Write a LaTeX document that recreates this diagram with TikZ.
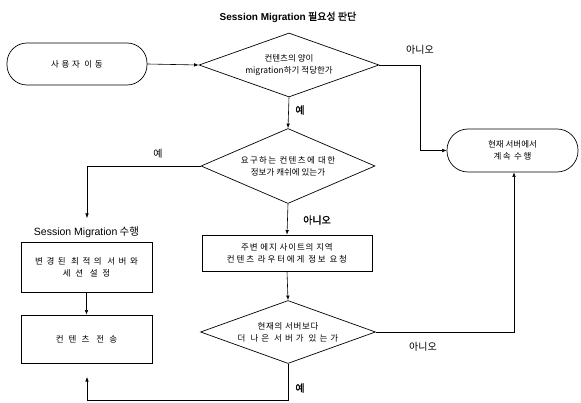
\documentclass[tikz,border=0pt]{standalone}
\usepackage{fontspec}
\setmainfont{Noto Sans CJK KR}[AutoFakeBold=1.5]
\newfontfamily\latf{Liberation Sans}
\newcommand{\ls}[2]{{\addfontfeatures{LetterSpace=#1}#2}}
\usetikzlibrary{shapes.geometric,arrows.meta}
\begin{document}
\begin{tikzpicture}[x=1pt,y=-1pt,
  every node/.style={font=\fontsize{8.5}{12}\selectfont, align=center, inner sep=0pt},
  box/.style={draw, line width=0.7pt, rectangle},
  term/.style={draw, line width=0.7pt, rectangle, rounded corners=20pt},
  dia/.style={draw, line width=0.7pt, diamond, inner sep=0pt},
  lbl/.style={font=\fontsize{10}{12}\selectfont},
  blbl/.style={font=\bfseries\fontsize{10}{12}\selectfont},
  conn/.style={line width=0.6pt},
  arr/.style={conn, -{Latex[length=4.5pt,width=3.5pt]}},
  thin conn/.style={line width=0.5pt}
]
\useasboundingbox (0,0) rectangle (581,403);

% title
\node[font=\bfseries\fontsize{10}{12}\selectfont] (title) at (288,17) {{\latf\bfseries Session Migration} 필요성 판단};

% start
\node[term, minimum width=140pt, minimum height=42pt] (start) at (77,64) {\ls{31}{사용자 이동}};

% decision 1
\node[dia, minimum width=180pt, minimum height=64pt] (d1) at (289,65) {};
\node (d1t) at (d1) {컨텐츠의 양이\\migration하기 적당한가};

% decision 2
\node[dia, minimum width=174pt, minimum height=75pt] (d2) at (288,166) {};
\node (d2t) at (d2) {\ls{16}{요구하는 컨텐츠에 대한}\\정보가 캐쉬에 있는가};

% middle box
\node[box, minimum width=170pt, minimum height=36pt] (mid) at (287,253) {\ls{10}{주변 에지 사이트의 지역}\\\ls{22}{컨텐츠 라우터에게 정보 요청}};

% decision 3
\node[dia, minimum width=175pt, minimum height=63pt] (d3) at (288,332) {};
\node (d3t) at (d3) {\ls{8}{현재의 서버보다}\\\ls{36}{더 나은 서버가 있는가}};

% right terminal
\node[term, minimum width=131pt, minimum height=43pt, rounded corners=21pt] (cont) at (512.5,150.5) {현재 서버에서\\\ls{18}{계속 수행}};

% left column
\node[font=\fontsize{10.5}{12}\selectfont] (smlbl) at (86.5,232) {{\latf Session Migration} 수행};
\node[box, minimum width=131pt, minimum height=50pt] (set) at (86.5,267) {\ls{42}{변경된 최적의 서버와}\\\ls{55}{세션 설정}};
\node[box, minimum width=131pt, minimum height=48pt] (send) at (86.5,339) {\ls{60}{컨텐츠 전송}};

% coordinates
\coordinate (c1) at (420,65);
\coordinate (c1b) at (420,150.5);
\coordinate (c2) at (87,166);
\coordinate (c2b) at (87,218);
\coordinate (c3) at (288,400);
\coordinate (c3b) at (87,400);
\coordinate (c3e) at (87,377);
\coordinate (c4) at (514,332);

% connectors
\draw[arr] (start.east) -- (d1.west);
\draw[arr] (d1.south) -- (d2.north);
\draw[thin conn,-{Latex[length=4.5pt,width=3.5pt]}] (d1.east) -- (c1) -- (c1b) -- (cont.west);
\draw[thin conn,-{Latex[length=4.5pt,width=3.5pt]}] (d2.west) -- (c2) -- (c2b);
\draw[arr] (d2.south) -- (mid.north);
\draw[arr] (mid.south) -- (d3.north);
\draw[arr] (set.south) -- (send.north);
\draw[thin conn,-{Latex[length=4.5pt,width=3.5pt]}] (d3.east) -- (c4) -- (cont.south -| c4);
\draw[arr] (d3.south) -- (c3) -- (c3b) -- (c3e);

% labels
\node[lbl] (l1) at (420,50) {아니오};
\node[blbl] (l2) at (300,110) {예};
\node[lbl] (l3) at (158,154) {예};
\node[blbl] (l4) at (317,220) {아니오};
\node[lbl] (l5) at (423,347) {아니오};
\node[blbl] (l6) at (300,388) {예};
\end{tikzpicture}
\end{document}
